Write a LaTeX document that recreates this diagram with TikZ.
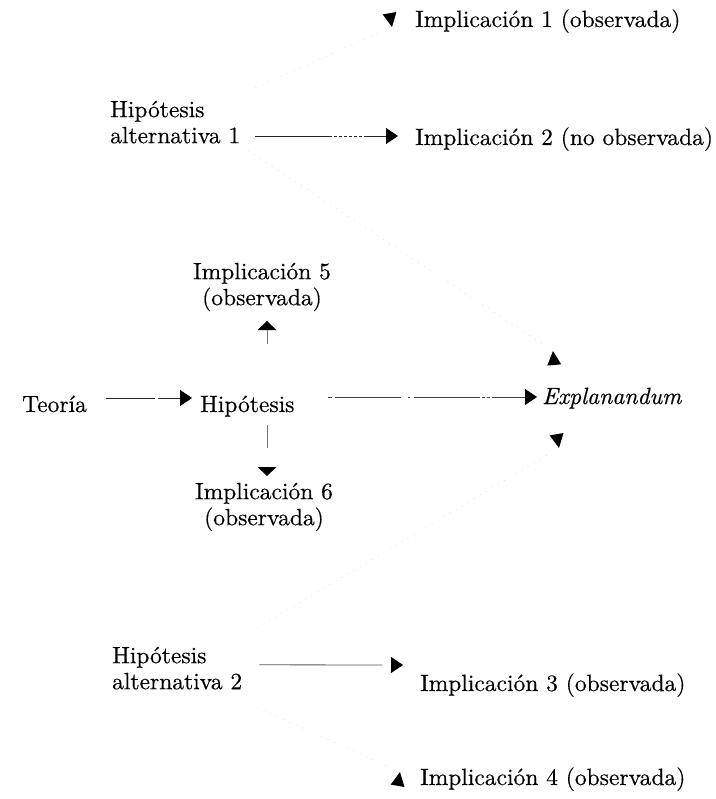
\documentclass[tikz,border=0pt]{standalone}
\usepackage{fontspec}
\setmainfont{lmroman10-regular.otf}[
  ItalicFont=lmroman10-italic.otf,
  FakeBold=0.4]
\usetikzlibrary{arrows.meta}
\tikzset{
  lbl/.style={inner sep=0pt, font=\fontsize{23.5}{26}\selectfont},
  oneline/.style={lbl, anchor=base west},
  twoline/.style={lbl, anchor=north west, align=left},
  twolinec/.style={lbl, anchor=north, align=center},
  link/.style={draw=black!85, line width=0.8pt,
    -{Triangle[length=12pt,width=16pt,color=black]}},
  faded/.style={draw=black!15, line width=0.5pt, dash pattern=on 1pt off 6pt},
  stub/.style={draw=black!55, line width=0.6pt},
  flathead/.pic={\fill[black] (0,0) -- (-9,9.5) -- (-9,-9.5) -- cycle;},
  tiphead/.pic={\fill[black] (0,0) -- (-14,7) -- (-14,-7) -- cycle;},
}
\begin{document}
\begin{tikzpicture}[x=1pt, y=-1pt]
  \fill[white] (0,0) rectangle (715,799);
  \useasboundingbox (0,0) rectangle (715,799);

  % labels
  \node[oneline]  (imp1)   at (415,27)    {Implicación 1 (observada)};
  \node[twoline]  (alt1)   at (110,98.8)  {\strut Hipótesis\\alternativa 1};
  \node[oneline]  (imp2)   at (415,145)   {Implicación 2 (no observada)};
  \node[twolinec] (imp5)   at (262,260.8) {\strut Implicación 5\\(observada)};
  \node[oneline]  (teoria) at (22,412)    {Teoría};
  \node[oneline]  (hip)    at (200,412)   {Hipótesis};
  \node[oneline]  (expl)   at (542,404)   {\textit{Explanandum}};
  \node[twolinec] (imp6)   at (264,480.8) {\strut Implicación 6\\(observada)};
  \node[twoline]  (alt2)   at (112,644.8) {\strut Hipótesis\\alternativa 2};
  \node[oneline]  (imp3)   at (420,691)   {Implicación 3 (observada)};
  \node[oneline]  (imp4)   at (420,785)   {Implicación 4 (observada)};

  % free-standing arrow heads
  \coordinate (t1)  at (392,27);
  \coordinate (t4)  at (400,772);
  \coordinate (t5)  at (267,321);
  \coordinate (t6)  at (267,476);
  \coordinate (tEa) at (553,351);
  \coordinate (tEb) at (559,448);
  \pic[rotate=-80] at (t1)  {tiphead};
  \pic[rotate=80]  at (t4)  {tiphead};
  \pic[rotate=90]  at (t5)  {flathead};
  \pic[rotate=-90] at (t6)  {flathead};
  \pic[rotate=95]  at (tEa) {tiphead};
  \pic[rotate=-80] at (tEb) {tiphead};

  % main arrows
  \draw[link, dash pattern=on 49pt off 3pt on 200pt]
    ([shift={(19,-14)}]teoria.base east) -- ([shift={(-8,-14)}]hip.base west);
  \draw[link, draw=black!75, dash pattern=on 4pt off 3pt on 66pt off 7pt on 2pt off 4pt on 66pt off 2pt on 3pt off 2pt on 3pt off 2pt on 60pt]
    ([shift={(33,-15)}]hip.base east) -- ([shift={(-5,-7)}]expl.base west);
  \draw[link, dash pattern=on 77pt off 2pt on 3pt off 2pt on 3pt off 2pt on 3pt off 2pt on 3pt off 2pt on 3pt off 2pt on 3pt off 2pt on 60pt]
    ([shift={(15,37.2)}]alt1.north east) -- ([shift={(-17,-9)}]imp2.base west);
  \draw[link, draw=black!65, dash pattern=on 123pt off 10pt on 50pt]
    ([shift={(17,20)}]alt2.north east) -- ([shift={(-17,-26)}]imp3.base west);

  % vertical links to the observed implications
  \draw[stub, dash pattern=on 0pt off 8pt on 23pt off 60pt] (t6 |- hip.south) -- (t6);
  \draw[stub, dash pattern=on 0pt off 51pt on 15pt] (t5 |- hip.north) -- ([yshift=-9pt]t5);

  % faded diagonal links
  \draw[faded, shorten >=14pt] ([shift={(15,-11)}]alt1.north east) -- (t1);
  \draw[faded, shorten >=13pt] ([shift={(8,52)}]alt1.north east) -- (tEa);
  \draw[faded, shorten >=13pt] ([shift={(15,-17)}]alt2.north east) -- (tEb);
  \draw[faded, shorten >=14pt] ([shift={(15,63)}]alt2.north east) -- (t4);
\end{tikzpicture}
\end{document}
